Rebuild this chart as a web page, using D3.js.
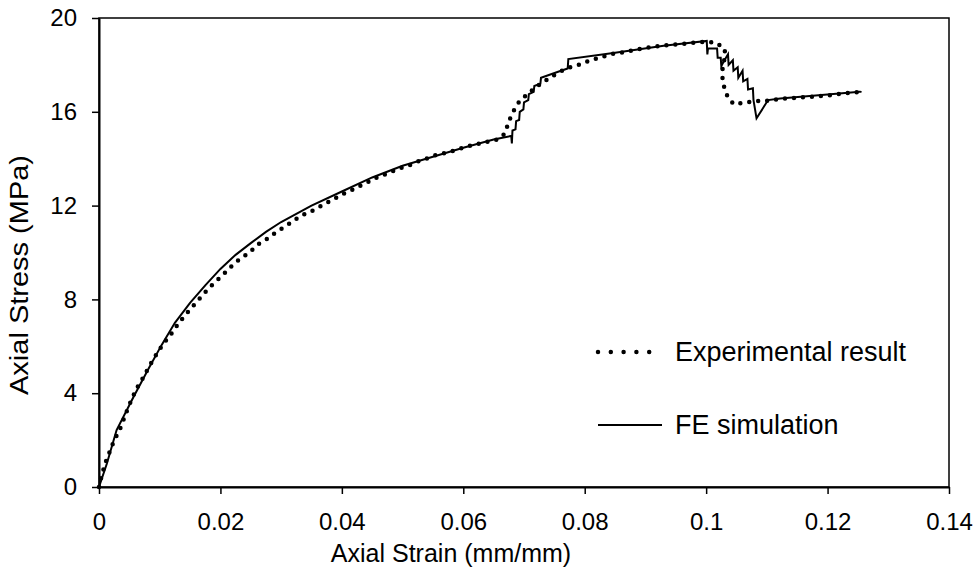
<!DOCTYPE html>
<html>
<head>
<meta charset="utf-8">
<script src="https://cdn.jsdelivr.net/npm/d3@7"></script>
<style>
  body { margin: 0; background: #fff; }
  text { font-family: "Liberation Sans", Arial, sans-serif; fill: #000; }
</style>
</head>
<body>
<div id="chart"></div>
<script>
// tick labels
var xTicks = [0, 0.02, 0.04, 0.06, 0.08, 0.1, 0.12, 0.14];
var yTicks = [0, 4, 8, 12, 16, 20];

// experimental result, [strain, stress]
var experimental = [
  [0, 0], [0.0004, 0.44], [0.001, 1.0], [0.0017, 1.46], [0.0024, 1.93], [0.0035, 2.5],
  [0.0046, 3.25], [0.0054, 3.75], [0.0062, 4.2], [0.0072, 4.63], [0.0081, 5.06],
  [0.0089, 5.42], [0.0099, 5.84], [0.011, 6.24], [0.0121, 6.6], [0.0131, 6.98],
  [0.0142, 7.33], [0.0154, 7.69], [0.0165, 8.02], [0.0177, 8.37], [0.0189, 8.69],
  [0.0201, 8.97], [0.0213, 9.28], [0.0225, 9.59], [0.0237, 9.8], [0.025, 10.06],
  [0.0262, 10.35], [0.0278, 10.6], [0.0293, 10.89], [0.0306, 11.1], [0.032, 11.34],
  [0.0332, 11.56], [0.0345, 11.7], [0.0356, 11.84], [0.0371, 12.06], [0.0386, 12.27],
  [0.0401, 12.49], [0.0416, 12.66], [0.043, 12.84], [0.0444, 13.02], [0.0457, 13.19],
  [0.0471, 13.33], [0.0485, 13.48], [0.0499, 13.62], [0.0512, 13.73], [0.0529, 13.92],
  [0.0544, 14.04], [0.0558, 14.19], [0.0573, 14.26], [0.0588, 14.37], [0.0602, 14.49],
  [0.0616, 14.58], [0.0629, 14.66], [0.0644, 14.75], [0.0658, 14.83], [0.0669, 15.08],
  [0.0674, 15.53], [0.0682, 16.0], [0.0692, 16.43], [0.0707, 16.79], [0.0722, 17.1],
  [0.0737, 17.36], [0.0755, 17.65], [0.077, 17.85], [0.079, 18.0], [0.0808, 18.18],
  [0.0826, 18.32], [0.0844, 18.46], [0.0864, 18.54], [0.0883, 18.64], [0.0902, 18.73],
  [0.0921, 18.8], [0.094, 18.85], [0.096, 18.89], [0.0979, 18.95], [0.0998, 18.99],
  [0.1017, 18.95], [0.1031, 18.66], [0.103, 18.24], [0.1026, 17.67], [0.1028, 17.19],
  [0.1034, 16.72], [0.1045, 16.32], [0.1062, 16.38], [0.1082, 16.46], [0.1102, 16.47],
  [0.112, 16.55], [0.114, 16.58], [0.1159, 16.62], [0.1178, 16.65], [0.1197, 16.69],
  [0.1217, 16.75], [0.1236, 16.81], [0.1256, 16.85]
];

// FE simulation, [strain, stress]
var simulation = [
  [0, 0], [0.0013, 1.0], [0.0029, 2.43], [0.0057, 3.85], [0.0082, 5.06], [0.0103, 6.05],
  [0.0125, 7.0], [0.015, 7.85], [0.0175, 8.6], [0.02, 9.3], [0.0225, 9.9], [0.025, 10.4],
  [0.0275, 10.88], [0.03, 11.3], [0.035, 12.0], [0.04, 12.6], [0.045, 13.2], [0.05, 13.7],
  [0.055, 14.08], [0.06, 14.47], [0.065, 14.82], [0.0679, 14.97], [0.068, 14.65],
  [0.0681, 15.2], [0.0686, 15.25], [0.0687, 15.6], [0.0692, 15.65], [0.0693, 16.0],
  [0.0699, 16.1], [0.07, 16.4], [0.0707, 16.5], [0.0708, 16.75], [0.0716, 16.85],
  [0.0717, 17.1], [0.0727, 17.2], [0.0728, 17.45], [0.0755, 17.7], [0.0772, 17.85],
  [0.0773, 18.25], [0.085, 18.52], [0.093, 18.82], [0.1001, 19.02], [0.1002, 18.45],
  [0.1003, 18.7], [0.1018, 18.7], [0.1019, 18.3], [0.1024, 18.3], [0.1025, 17.95],
  [0.1028, 18.1], [0.1036, 18.45], [0.1037, 18.0], [0.1044, 18.2], [0.1045, 17.75],
  [0.1052, 17.9], [0.1053, 17.45], [0.106, 17.75], [0.1061, 17.3], [0.1068, 17.4],
  [0.1069, 16.95], [0.1077, 17.0], [0.1078, 16.5], [0.1083, 15.72], [0.1102, 16.5],
  [0.1122, 16.57], [0.1253, 16.86], [0.1256, 16.85]
];

var legendNames = ["Experimental result", "FE simulation"];

var margin = { top: 18, right: 30, bottom: 89, left: 99 };
var width = 979 - margin.left - margin.right;
var height = 576 - margin.top - margin.bottom;

var svg = d3.select("#chart")
  .append("svg")
  .attr("width", 979)
  .attr("height", 576)
  .append("g")
  .attr("transform", "translate(" + margin.left + "," + margin.top + ")");

var x = d3.scaleLinear().domain([0, 0.14]).range([0, width]);
var y = d3.scaleLinear().domain([0, 20]).range([height, 0]);

// plot area border
svg.append("rect")
  .attr("x", 0).attr("y", 0)
  .attr("width", width).attr("height", height)
  .attr("fill", "none")
  .attr("stroke", "#000")
  .attr("stroke-width", 1.5);

var xAxis = svg.append("g")
  .attr("transform", "translate(0," + height + ")")
  .call(d3.axisBottom(x).tickValues(xTicks).tickSize(7).tickSizeOuter(0)
    .tickFormat(function (d) { return d3.format("")(+d.toFixed(2)); }));

var yAxis = svg.append("g")
  .call(d3.axisLeft(y).tickValues(yTicks).tickSize(7).tickSizeOuter(0));

[xAxis, yAxis].forEach(function (a) {
  a.select(".domain").attr("stroke", "#000").attr("stroke-width", 2);
  a.selectAll(".tick line").attr("stroke", "#000").attr("stroke-width", 1.5);
  a.selectAll(".tick text").style("font-size", "24px").attr("fill", "#000");
});
xAxis.selectAll(".tick text").attr("y", 26);
yAxis.selectAll(".tick text").attr("x", -22);

var line = d3.line()
  .x(function (d) { return x(d[0]); })
  .y(function (d) { return y(d[1]); });

svg.append("path")
  .datum(simulation)
  .attr("fill", "none")
  .attr("stroke", "#000")
  .attr("stroke-width", 2)
  .attr("d", line);

svg.append("path")
  .datum(experimental)
  .attr("fill", "none")
  .attr("stroke", "#000")
  .attr("stroke-width", 4.5)
  .attr("stroke-linecap", "round")
  .attr("stroke-dasharray", "0,9")
  .attr("d", line);

// axis titles
svg.append("text")
  .attr("x", 451 - margin.left)
  .attr("y", 562 - margin.top)
  .attr("text-anchor", "middle")
  .style("font-size", "25px")
  .text("Axial Strain (mm/mm)");

svg.append("text")
  .attr("transform", "translate(" + (28 - margin.left) + "," + (275 - margin.top) + ") rotate(-90)")
  .attr("text-anchor", "middle")
  .attr("textLength", 240)
  .attr("lengthAdjust", "spacingAndGlyphs")
  .style("font-size", "25px")
  .text("Axial Stress (MPa)");

// legend
var legend = svg.append("g").attr("transform", "translate(" + (598 - margin.left) + "," + (352 - margin.top) + ")");
legend.append("line")
  .attr("x1", 0).attr("x2", 64).attr("y1", 0).attr("y2", 0)
  .attr("stroke", "#000").attr("stroke-width", 4.5)
  .attr("stroke-linecap", "round").attr("stroke-dasharray", "0,12.8");
legend.append("line")
  .attr("x1", 0).attr("x2", 64).attr("y1", 73).attr("y2", 73)
  .attr("stroke", "#000").attr("stroke-width", 2);
legend.selectAll("text.leg")
  .data(legendNames)
  .enter().append("text")
  .attr("class", "leg")
  .attr("x", 77)
  .attr("y", function (d, i) { return i * 73; })
  .attr("dy", "0.35em")
  .style("font-size", "27px")
  .text(function (d) { return d; });
</script>
</body>
</html>
